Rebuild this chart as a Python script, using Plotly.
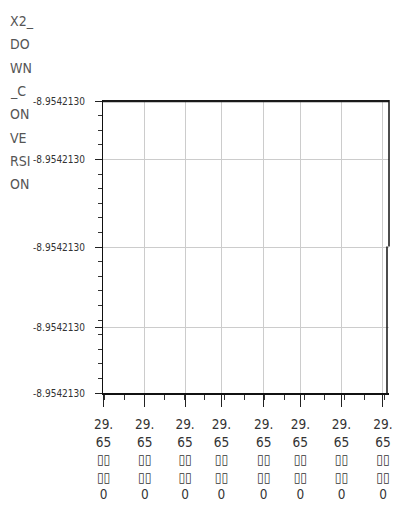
import plotly.graph_objects as go

# ---- data ----
x_series = [0.0, 100.0]
y_series = [-8.95421300, -8.95421300]

x_tick_values = [0.2, 14.6, 28.7, 41.4, 56.2, 69.0, 83.4, 97.9]
x_tick_labels = ["29.<br>65<br>▯▯<br>▯▯<br>0"] * 8

y_range = [-8.95421304, -8.95421299985]
y_tick_values = [-8.95421304, -8.954213031, -8.954213020, -8.954213008, -8.95421300]
y_tick_labels = [f"{v:.7f}" for v in y_tick_values]

y_title_lines = ["X2_", "DO", "WN", "_C", "ON", "VE", "RSI", "ON"]

FONT = "DejaVu Sans Condensed, DejaVu Sans, sans-serif"

fig = go.Figure()
fig.add_trace(go.Scatter(x=x_series, y=y_series, mode="lines",
                         line=dict(color="#1a1a1a", width=2.5), hoverinfo="skip",
                         showlegend=False))

# y-axis title, one annotation per wrapped line
# plot area spans pixel rows 100..393 (height 293); row r -> paper (393 - r)/293
title_annotations = []
for i, line in enumerate(y_title_lines):
    r = 21 + i * 23.3
    title_annotations.append(dict(
        text=line, xref="paper", yref="paper",
        x=-0.332, y=(393 - r) / 293,
        xanchor="left", yanchor="middle", showarrow=False,
        font=dict(size=14, family=FONT, color="#555")))

fig.update_layout(
    width=396, height=511,
    margin=dict(l=103, r=3, t=100, b=118),
    paper_bgcolor="white", plot_bgcolor="white",
    font=dict(family=FONT, color="#333"),
    showlegend=False,
    xaxis=dict(range=[0, 100], tickmode="array", tickvals=x_tick_values,
               ticktext=x_tick_labels, ticks="outside", ticklen=12,
               tickcolor="#222", showline=True, linecolor="#111", linewidth=1.5,
               showgrid=True, gridcolor="#cccccc", gridwidth=1, zeroline=False,
               tickangle=0, ticklabeloverflow="allow", ticklabelstandoff=6,
               tickfont=dict(size=13.5, family=FONT, color="#333"),
               minor=dict(dtick=7, tick0=7.4, ticks="outside", ticklen=5,
                          tickcolor="#333", showgrid=False)),
    yaxis=dict(range=y_range, tickmode="array", tickvals=y_tick_values,
               ticktext=y_tick_labels, ticks="outside", ticklen=7,
               tickcolor="#222", showline=True, linecolor="#111", linewidth=1,
               showgrid=True, gridcolor="#cccccc", gridwidth=1, zeroline=False,
               ticklabelstandoff=8,
               tickfont=dict(size=10, family=FONT, color="#333"),
               minor=dict(dtick=0.2e-8, tick0=-8.95421304, ticks="outside", ticklen=4,
                          tickcolor="#333", showgrid=False)),
    shapes=[
        dict(type="line", xref="paper", yref="paper", x0=1, x1=1, y0=1, y1=0.5,
             line=dict(color="#111", width=1.5)),
        dict(type="line", xref="paper", yref="paper", x0=0.993, x1=0.993, y0=0.5, y1=0,
             line=dict(color="#111", width=1.5)),
    ],
    annotations=title_annotations,
)

fig.write_html("out.html")
